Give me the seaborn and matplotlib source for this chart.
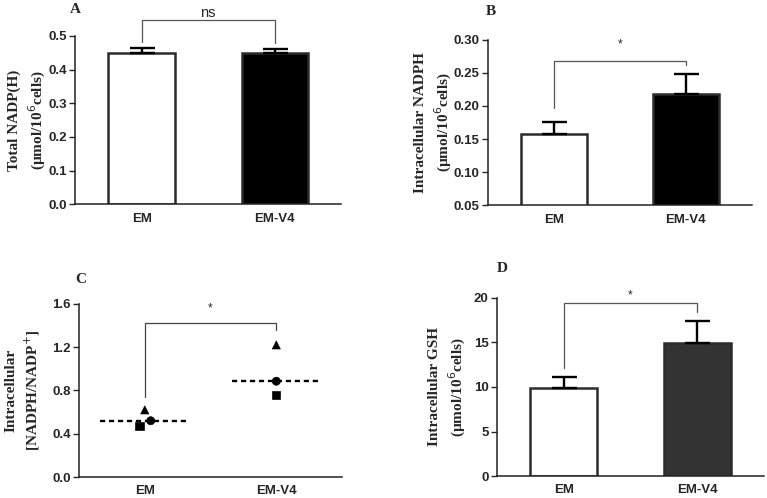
import numpy as np
import pandas as pd
import seaborn as sns
import matplotlib.pyplot as plt

# data
groups = ['EM', 'EM-V4']

nadph_total = [0.449, 0.449]
nadph_total_err = [0.016, 0.013]

nadph = [0.157, 0.218]
nadph_err = [0.019, 0.031]

ratio_group = ['EM', 'EM', 'EM', 'EM-V4', 'EM-V4', 'EM-V4']
ratio_shape = ['tri', 'circ', 'sq', 'tri', 'circ', 'sq']
ratio_values = [0.62, 0.52, 0.47, 1.22, 0.885, 0.76]
ratio_jitter = [0.0, 0.045, -0.04, 0.0, 0.0, 0.0]

gsh = [9.9, 14.9]
gsh_err = [1.2, 2.5]

sns.set_style('ticks')
plt.rcParams['font.family'] = ['Liberation Sans', 'DejaVu Sans']

fig = plt.figure(figsize=(7.67, 4.98), dpi=100)
axA = fig.add_axes([0.098, 0.590, 0.347, 0.338])
axB = fig.add_axes([0.636, 0.588, 0.344, 0.332])
axC = fig.add_axes([0.103, 0.042, 0.343, 0.348])
axD = fig.add_axes([0.648, 0.044, 0.348, 0.358])

serif = ['Liberation Serif', 'DejaVu Serif']
edge = '#2b2b2b'


def style_axes(ax, ylabel, pad):
    sns.despine(ax=ax)
    for s in ['left', 'bottom']:
        ax.spines[s].set_linewidth(1.1)
        ax.spines[s].set_color('#222222')
    ax.tick_params(axis='y', direction='out', length=4, width=1.0, pad=2, labelsize=9.5)
    ax.tick_params(axis='x', length=0, pad=6, labelsize=9.5)
    for lab in ax.get_xticklabels() + ax.get_yticklabels():
        lab.set_fontweight('bold')
    ax.set_xlabel('')
    ax.set_ylabel(ylabel, family=serif, fontweight='bold', fontsize=11,
                  linespacing=1.4, labelpad=pad)
    ax.set_xlim(-0.5, 1.5)


def bars(ax, vals, errs, fills):
    df = pd.DataFrame({'group': groups, 'value': vals})
    sns.barplot(data=df, x='group', y='value', hue='group', palette=fills,
                width=0.5, errorbar=None, legend=False, ax=ax,
                edgecolor=edge, linewidth=1.8)
    ax.errorbar(range(len(vals)), vals, yerr=[np.zeros(len(errs)), errs],
                fmt='none', ecolor='black', elinewidth=1.7, capsize=9, capthick=1.7)


def bracket(ax, y, yl, yr, label, ly, size, color='#555555'):
    ax.plot([0, 0, 1, 1], [yl, y, y, yr], color=color, lw=0.9, clip_on=False)
    ax.text(0.5, ly, label, ha='center', va='center', fontsize=size, clip_on=False)


# A
bars(axA, nadph_total, nadph_total_err, ['white', 'black'])
axA.set_ylim(0, 0.5)
axA.set_yticks(np.arange(0, 0.51, 0.1))
axA.set_yticklabels([f'{t:.1f}' for t in np.arange(0, 0.51, 0.1)])
style_axes(axA, 'Total NADP(H)\n(µmol/10$^{6}$cells)', 0)
bracket(axA, 0.548, 0.482, 0.478, 'ns', 0.567, 10.5)

# B
bars(axB, nadph, nadph_err, ['white', 'black'])
axB.set_ylim(0.05, 0.30)
axB.set_yticks(np.arange(0.05, 0.301, 0.05))
axB.set_yticklabels([f'{t:.2f}' for t in np.arange(0.05, 0.301, 0.05)])
style_axes(axB, 'Intracellular NADPH\n(µmol/10$^{6}$cells)', -0.5)
bracket(axB, 0.268, 0.197, 0.262, '*', 0.293, 8.5)

# C
rdf = pd.DataFrame({'group': ratio_group, 'shape': ratio_shape, 'value': ratio_values})
rdf['pos'] = rdf['group'].map({g: i for i, g in enumerate(groups)}) + np.array(ratio_jitter)
sns.scatterplot(data=rdf, x='pos', y='value', style='shape',
                markers={'tri': '^', 'circ': 'o', 'sq': 's'}, color='black',
                s=34, edgecolor='black', legend=False, ax=axC, zorder=3)
med = rdf.groupby('group')['value'].median().reindex(groups)
axC.hlines(med.values, np.arange(len(groups)) - 0.34, np.arange(len(groups)) + 0.34,
           colors='black', linestyles=(0, (2.2, 1.6)), lw=1.7)
axC.set_xticks(range(len(groups)))
axC.set_xticklabels(groups)
axC.set_ylim(0, 1.6)
axC.set_yticks([0.0, 0.4, 0.8, 1.2, 1.6])
style_axes(axC, 'Intracellular\n[NADPH/NADP$^{+}$]', 7)
bracket(axC, 1.42, 0.74, 1.36, '*', 1.56, 8.5, color='#444444')

# D
bars(axD, gsh, gsh_err, ['white', '#333333'])
axD.set_ylim(0, 20)
axD.set_yticks([0, 5, 10, 15, 20])
style_axes(axD, 'Intracellular GSH\n(µmol/10$^{6}$cells)', 4)
bracket(axD, 19.4, 12.1, 18.4, '*', 20.3, 8.5)

# panel letters
for x, y, t in [(0.091, 0.994, 'A'), (0.634, 0.99, 'B'), (0.098, 0.452, 'C'), (0.648, 0.474, 'D')]:
    fig.text(x, y, t, family=serif, fontweight='bold', fontsize=11, ha='left', va='top')

fig.savefig('out.png', dpi=100)
